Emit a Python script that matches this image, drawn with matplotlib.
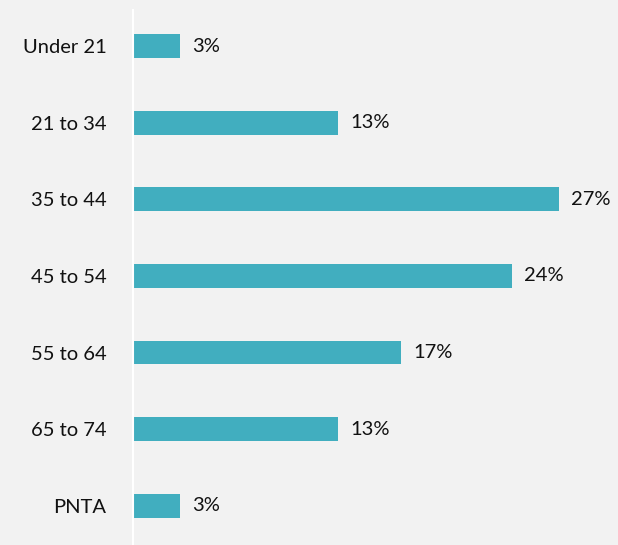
import matplotlib
matplotlib.use("Agg")
import matplotlib.pyplot as plt

categories = ["Under 21", "21 to 34", "35 to 44", "45 to 54", "55 to 64", "65 to 74", "PNTA"]
values = [3, 13, 27, 24, 17, 13, 3]
value_labels = ["3%", "13%", "27%", "24%", "17%", "13%", "3%"]

bg = "#f2f2f2"
bar_color = "#41aebf"
plt.rcParams['font.family'] = ['Lato', 'DejaVu Sans']

fig = plt.figure(figsize=(6.18, 5.45), dpi=100, facecolor=bg)
ax = fig.add_axes([133/618, 0, 485/618, 535/545], facecolor=bg)

px_per_unit = 426/27
ax.set_xlim(0, 485/px_per_unit)
ax.set_ylim(6.51, -0.47)

ypos = list(range(len(categories)))
ax.barh(ypos, values, height=0.31, color=bar_color)
for y, v, lab in zip(ypos, values, value_labels):
    ax.text(v + 12/px_per_unit, y, lab, va='center', ha='left', fontsize=14.5, color='#111111')

ax.set_yticks(ypos)
ax.set_yticklabels(categories, fontsize=14.5, color='#111111')
ax.tick_params(axis='y', length=0, pad=19)
ax.set_xticks([])
for s in ['top', 'right', 'bottom']:
    ax.spines[s].set_visible(False)
ax.spines['left'].set_color('#ffffff')
ax.spines['left'].set_linewidth(1.5)

fig.savefig("out.png", dpi=100, facecolor=bg)
